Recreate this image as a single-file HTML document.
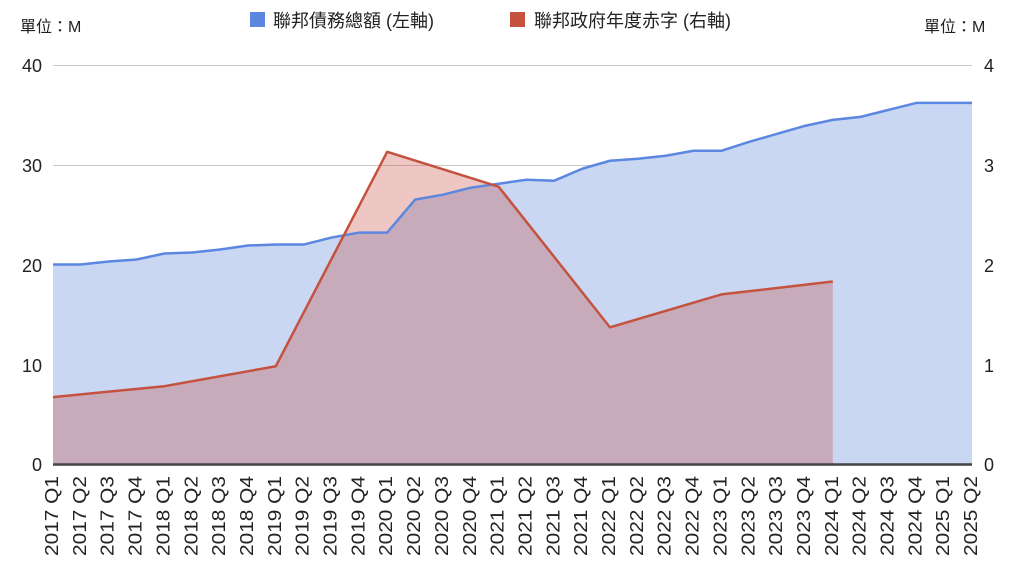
<!DOCTYPE html>
<html><head><meta charset="utf-8"><style>
html,body{margin:0;padding:0;background:#fff;}
svg{display:block;font-family:"Liberation Sans","Noto Sans CJK TC",sans-serif;}
</style></head><body>
<svg width="1024" height="576" viewBox="0 0 1024 576" xmlns="http://www.w3.org/2000/svg">
<g stroke="#c9c9c9" stroke-width="1">
<line x1="53" y1="65.5" x2="972" y2="65.5"/>
<line x1="53" y1="165.5" x2="972" y2="165.5"/>
<line x1="53" y1="265.5" x2="972" y2="265.5"/>
<line x1="53" y1="365.5" x2="972" y2="365.5"/>
</g>
<g transform="translate(53,464) scale(27.85,-9.975)">
<polygon fill="#c9d7f3" points="0,0 0,20 1,20 2,20.3 3,20.5 4,21.1 5,21.2 6,21.5 7,21.9 8,22 9,22 10,22.7 11,23.2 12,23.2 13,26.5 14,27 15,27.7 16,28.1 17,28.5 18,28.4 19,29.6 20,30.4 21,30.6 22,30.9 23,31.4 24,31.4 25,32.3 26,33.1 27,33.9 28,34.5 29,34.8 30,35.5 31,36.2 32,36.2 33,36.2 33,0"/>
<polygon fill="#c8453a" fill-opacity="0.3" points="0,0 0,6.7 4,7.8 8,9.8 12,31.3 16,27.8 20,13.7 24,17 28,18.3 28,0"/>
<polyline fill="none" stroke="#5b87e0" stroke-width="2.5" vector-effect="non-scaling-stroke" stroke-linejoin="round" points="0,20 1,20 2,20.3 3,20.5 4,21.1 5,21.2 6,21.5 7,21.9 8,22 9,22 10,22.7 11,23.2 12,23.2 13,26.5 14,27 15,27.7 16,28.1 17,28.5 18,28.4 19,29.6 20,30.4 21,30.6 22,30.9 23,31.4 24,31.4 25,32.3 26,33.1 27,33.9 28,34.5 29,34.8 30,35.5 31,36.2 32,36.2 33,36.2"/>
<polyline fill="none" stroke="#c5523f" stroke-width="2.5" vector-effect="non-scaling-stroke" stroke-linejoin="round" points="0,6.7 4,7.8 8,9.8 12,31.3 16,27.8 20,13.7 24,17 28,18.3"/>
</g>
<line x1="53" y1="464.5" x2="972" y2="464.5" stroke="#444" stroke-width="2.5"/>
<g font-size="18" fill="#222" text-anchor="end">
<text x="42" y="72">40</text><text x="42" y="172">30</text><text x="42" y="272">20</text><text x="42" y="372">10</text><text x="42" y="471">0</text>
</g>
<g font-size="18" fill="#222" text-anchor="start">
<text x="984" y="72">4</text><text x="984" y="172">3</text><text x="984" y="272">2</text><text x="984" y="372">1</text><text x="984" y="471">0</text>
</g>
<text x="20" y="32" font-size="16" fill="#222">單位：M</text>
<text x="924" y="32" font-size="16" fill="#222">單位：M</text>
<rect x="250" y="12" width="15" height="15" fill="#5b87e0"/>
<text x="273" y="27" font-size="18" fill="#222">聯邦債務總額 (左軸)</text>
<rect x="510" y="12" width="15" height="15" fill="#c5523f"/>
<text x="534" y="27" font-size="18" fill="#222">聯邦政府年度赤字 (右軸)</text>
<g font-size="18" fill="#222" text-anchor="end">
<text transform="translate(58,476) rotate(-90)" textLength="80" lengthAdjust="spacingAndGlyphs">2017 Q1</text>
<text transform="translate(85.85,476) rotate(-90)" textLength="80" lengthAdjust="spacingAndGlyphs">2017 Q2</text>
<text transform="translate(113.7,476) rotate(-90)" textLength="80" lengthAdjust="spacingAndGlyphs">2017 Q3</text>
<text transform="translate(141.55,476) rotate(-90)" textLength="80" lengthAdjust="spacingAndGlyphs">2017 Q4</text>
<text transform="translate(169.4,476) rotate(-90)" textLength="80" lengthAdjust="spacingAndGlyphs">2018 Q1</text>
<text transform="translate(197.25,476) rotate(-90)" textLength="80" lengthAdjust="spacingAndGlyphs">2018 Q2</text>
<text transform="translate(225.1,476) rotate(-90)" textLength="80" lengthAdjust="spacingAndGlyphs">2018 Q3</text>
<text transform="translate(252.95,476) rotate(-90)" textLength="80" lengthAdjust="spacingAndGlyphs">2018 Q4</text>
<text transform="translate(280.8,476) rotate(-90)" textLength="80" lengthAdjust="spacingAndGlyphs">2019 Q1</text>
<text transform="translate(308.65,476) rotate(-90)" textLength="80" lengthAdjust="spacingAndGlyphs">2019 Q2</text>
<text transform="translate(336.5,476) rotate(-90)" textLength="80" lengthAdjust="spacingAndGlyphs">2019 Q3</text>
<text transform="translate(364.35,476) rotate(-90)" textLength="80" lengthAdjust="spacingAndGlyphs">2019 Q4</text>
<text transform="translate(392.2,476) rotate(-90)" textLength="80" lengthAdjust="spacingAndGlyphs">2020 Q1</text>
<text transform="translate(420.05,476) rotate(-90)" textLength="80" lengthAdjust="spacingAndGlyphs">2020 Q2</text>
<text transform="translate(447.9,476) rotate(-90)" textLength="80" lengthAdjust="spacingAndGlyphs">2020 Q3</text>
<text transform="translate(475.75,476) rotate(-90)" textLength="80" lengthAdjust="spacingAndGlyphs">2020 Q4</text>
<text transform="translate(503.6,476) rotate(-90)" textLength="80" lengthAdjust="spacingAndGlyphs">2021 Q1</text>
<text transform="translate(531.45,476) rotate(-90)" textLength="80" lengthAdjust="spacingAndGlyphs">2021 Q2</text>
<text transform="translate(559.3,476) rotate(-90)" textLength="80" lengthAdjust="spacingAndGlyphs">2021 Q3</text>
<text transform="translate(587.15,476) rotate(-90)" textLength="80" lengthAdjust="spacingAndGlyphs">2021 Q4</text>
<text transform="translate(615,476) rotate(-90)" textLength="80" lengthAdjust="spacingAndGlyphs">2022 Q1</text>
<text transform="translate(642.85,476) rotate(-90)" textLength="80" lengthAdjust="spacingAndGlyphs">2022 Q2</text>
<text transform="translate(670.7,476) rotate(-90)" textLength="80" lengthAdjust="spacingAndGlyphs">2022 Q3</text>
<text transform="translate(698.55,476) rotate(-90)" textLength="80" lengthAdjust="spacingAndGlyphs">2022 Q4</text>
<text transform="translate(726.4,476) rotate(-90)" textLength="80" lengthAdjust="spacingAndGlyphs">2023 Q1</text>
<text transform="translate(754.25,476) rotate(-90)" textLength="80" lengthAdjust="spacingAndGlyphs">2023 Q2</text>
<text transform="translate(782.1,476) rotate(-90)" textLength="80" lengthAdjust="spacingAndGlyphs">2023 Q3</text>
<text transform="translate(809.95,476) rotate(-90)" textLength="80" lengthAdjust="spacingAndGlyphs">2023 Q4</text>
<text transform="translate(837.8,476) rotate(-90)" textLength="80" lengthAdjust="spacingAndGlyphs">2024 Q1</text>
<text transform="translate(865.65,476) rotate(-90)" textLength="80" lengthAdjust="spacingAndGlyphs">2024 Q2</text>
<text transform="translate(893.5,476) rotate(-90)" textLength="80" lengthAdjust="spacingAndGlyphs">2024 Q3</text>
<text transform="translate(921.35,476) rotate(-90)" textLength="80" lengthAdjust="spacingAndGlyphs">2024 Q4</text>
<text transform="translate(949.2,476) rotate(-90)" textLength="80" lengthAdjust="spacingAndGlyphs">2025 Q1</text>
<text transform="translate(977.05,476) rotate(-90)" textLength="80" lengthAdjust="spacingAndGlyphs">2025 Q2</text>
</g>
</svg>
</body></html>
